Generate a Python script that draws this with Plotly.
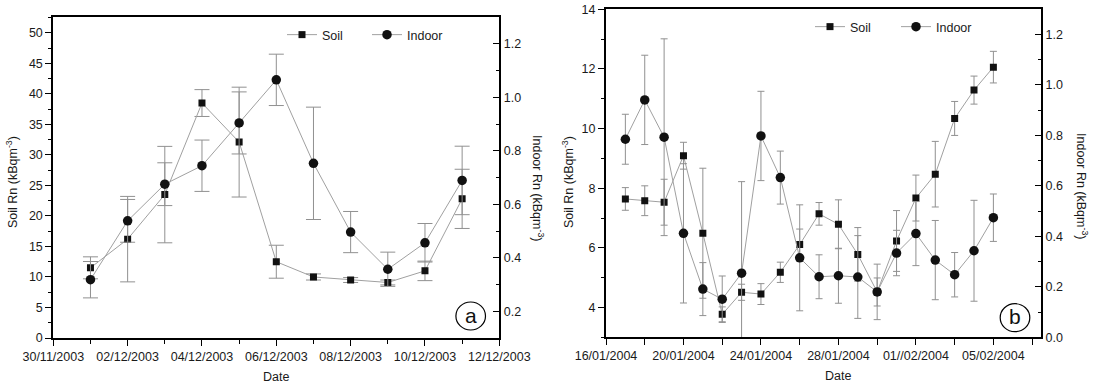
import plotly.graph_objects as go

# ---------------- data: panel (a) ----------------
a_dates = ["2003-12-01", "2003-12-02", "2003-12-03", "2003-12-04", "2003-12-05", "2003-12-06",
           "2003-12-07", "2003-12-08", "2003-12-09", "2003-12-10", "2003-12-11"]
a_soil = [11.5, 16.2, 23.5, 38.5, 32.1, 12.5, 10.0, 9.5, 9.1, 11.0, 22.8]
a_soil_err = [1.8, 7.0, 7.9, 2.2, 9.0, 2.7, 0.5, 0.4, 0.4, 1.6, 4.85]
a_indoor = [0.318, 0.538, 0.675, 0.744, 0.904, 1.065, 0.753, 0.496, 0.357, 0.456, 0.689]
a_indoor_err = [0.068, 0.08, 0.08, 0.096, 0.116, 0.096, 0.21, 0.077, 0.064, 0.072, 0.128]

# ---------------- data: panel (b) ----------------
b_dates = ["2004-01-17", "2004-01-18", "2004-01-19", "2004-01-20", "2004-01-21", "2004-01-22",
           "2004-01-23", "2004-01-24", "2004-01-25", "2004-01-26", "2004-01-27", "2004-01-28",
           "2004-01-29", "2004-01-30", "2004-01-31", "2004-02-01", "2004-02-02", "2004-02-03",
           "2004-02-04", "2004-02-05"]
b_soil = [7.64, 7.58, 7.53, 9.09, 6.49, 3.77, 4.51, 4.45, 5.18, 6.11, 7.14, 6.79, 5.78, 4.52,
          6.23, 7.67, 8.47, 10.34, 11.29, 12.06]
b_soil_err = [0.38, 0.5, 0.77, 0.45, 2.18, 0.25, 0.27, 0.35, 0.34, 0.52, 0.38, 0.82, 0.9, 0.47,
              1.02, 0.77, 1.1, 0.57, 0.47, 0.53]
b_indoor = [0.785, 0.941, 0.793, 0.412, 0.191, 0.151, 0.254, 0.798, 0.633, 0.315, 0.240, 0.244,
            0.239, 0.180, 0.334, 0.411, 0.306, 0.248, 0.343, 0.474]
b_indoor_err = [0.099, 0.177, 0.39, 0.276, 0.105, 0.092, 0.363, 0.177, 0.105, 0.21, 0.087, 0.109,
                0.164, 0.11, 0.09, 0.127, 0.157, 0.088, 0.2, 0.094]

a_xtick_vals = ["2003-11-30", "2003-12-02", "2003-12-04", "2003-12-06", "2003-12-08", "2003-12-10", "2003-12-12"]
a_xtick_text = ["30/11/2003", "02/12/2003", "04/12/2003", "06/12/2003", "08/12/2003", "10/12/2003", "12/12/2003"]
b_xtick_vals = ["2004-01-16", "2004-01-20", "2004-01-24", "2004-01-28", "2004-02-01", "2004-02-05"]
b_xtick_text = ["16/01/2004", "20/01/2004", "24/01/2004", "28/01/2004", "01//02/2004", "05/02/2004"]

W, H = 1093, 386
FONT = "Liberation Sans, Arial, sans-serif"
FS = 12.5
LINE_C = "#a0a0a0"
ERR_C = "#909090"
MARK_C = "#111111"


def px(x):
    return x / W


def py(y):
    return 1 - y / H


fig = go.Figure()


def add_series(x, y, err, xa, ya, symbol, size, name, legend, cap, showlegend=True):
    fig.add_trace(go.Scatter(
        x=x, y=y, xaxis=xa, yaxis=ya, mode="lines+markers", name=name,
        line=dict(color=LINE_C, width=1),
        marker=dict(symbol=symbol, size=size, color=MARK_C),
        error_y=dict(type="data", array=err, visible=True, color=ERR_C, thickness=1, width=cap),
        legend=legend, showlegend=showlegend,
    ))


add_series(a_dates, a_soil, a_soil_err, "x", "y", "square", 7, "Soil", "legend", 7.5)
add_series(a_dates, a_indoor, a_indoor_err, "x", "y2", "circle", 9.5, "Indoor", "legend", 7.5)
add_series(b_dates, b_soil, b_soil_err, "x2", "y3", "square", 7, "Soil", "legend2", 3.5)
add_series(b_dates, b_indoor, b_indoor_err, "x2", "y4", "circle", 9.5, "Indoor", "legend2", 3.5)

tickfont = dict(family=FONT, size=FS, color="#1a1a1a")
common = dict(showgrid=False, zeroline=False, showline=True, linecolor="black", linewidth=2,
              tickfont=tickfont, tickcolor="black", tickwidth=1.3, automargin=False)

a_dom_x = [px(53.3), px(499.3)]
a_dom_y = [py(338), py(17)]
b_dom_x = [px(606), px(1041)]
b_dom_y = [py(337.3), py(9.3)]

DAY = 86400000

fig.update_layout(
    template="none",
    width=W, height=H, margin=dict(l=0, r=0, t=0, b=0, pad=0, autoexpand=False),
    paper_bgcolor="white", plot_bgcolor="white",
    font=dict(family=FONT, size=FS, color="#1a1a1a"),
    xaxis=dict(domain=a_dom_x, anchor="y", type="date",
               range=["2003-11-30", "2003-12-12"],
               tickmode="array", tickvals=a_xtick_vals, ticktext=a_xtick_text,
               ticks="outside", ticklen=6, mirror=True,
               minor=dict(tick0="2003-11-30", dtick=DAY, ticks="outside", ticklen=3.5,
                          tickcolor="black", tickwidth=1.3, showgrid=False),
               **common),
    yaxis=dict(domain=a_dom_y, anchor="x", range=[0, 52.6], tick0=0, dtick=5,
               ticks="outside", ticklen=6,
               minor=dict(dtick=2.5, ticks="outside", ticklen=3.5, tickcolor="black",
                          tickwidth=1.3, showgrid=False),
               **common),
    yaxis2=dict(domain=a_dom_y, anchor="x", overlaying="y", side="right",
                range=[0.1, 1.3], tick0=0, dtick=0.2, tickformat=".1f",
                ticks="inside", ticklen=6,
                minor=dict(tick0=0, dtick=0.1, ticks="inside", ticklen=3.5, tickcolor="black",
                           tickwidth=1.3, showgrid=False),
                **common),
    xaxis2=dict(domain=b_dom_x, anchor="y3", type="date",
                range=["2004-01-16", "2004-02-07 11:00"],
                tickmode="array", tickvals=b_xtick_vals, ticktext=b_xtick_text,
                ticks="outside", ticklen=6, mirror=True,
                minor=dict(tick0="2004-01-16", dtick=2 * DAY, ticks="outside", ticklen=6,
                           tickcolor="black", tickwidth=1.3, showgrid=False),
                **common),
    yaxis3=dict(domain=b_dom_y, anchor="x2", range=[3, 14], tick0=0, dtick=2,
                ticks="outside", ticklen=6,
                minor=dict(dtick=1, ticks="outside", ticklen=3.5, tickcolor="black",
                           tickwidth=1.3, showgrid=False),
                **common),
    yaxis4=dict(domain=b_dom_y, anchor="x2", overlaying="y3", side="right",
                range=[0, 1.3], tick0=0, dtick=0.2, tickformat=".1f",
                ticks="inside", ticklen=6,
                minor=dict(tick0=0, dtick=0.1, ticks="inside", ticklen=3.5, tickcolor="black",
                           tickwidth=1.3, showgrid=False),
                **common),
    legend=dict(orientation="h", x=px(282), y=py(35), xanchor="left", yanchor="middle",
                bgcolor="rgba(0,0,0,0)", font=dict(family=FONT, size=FS),
                entrywidth=40, entrywidthmode="pixels", tracegroupgap=0),
    legend2=dict(orientation="h", x=px(810), y=py(27), xanchor="left", yanchor="middle",
                 bgcolor="rgba(0,0,0,0)", font=dict(family=FONT, size=FS),
                 entrywidth=41, entrywidthmode="pixels", tracegroupgap=0),
)

ann_font = dict(family=FONT, size=FS, color="#1a1a1a")


def label(text, x, y, angle=0, font=ann_font):
    return dict(text=text, x=px(x), y=py(y), xref="paper", yref="paper", showarrow=False,
                xanchor="center", yanchor="middle", textangle=angle, font=font)


ann = [
    label("Date", 276, 377),
    label("Date", 838, 376),
    label("Soil Rn (kBqm<sup>-3</sup>)", 12, 182, -90),
    label("Indoor Rn (kBqm<sup>-3</sup>)", 538, 188, 90),
    label("Soil Rn (kBqm<sup>-3</sup>)", 568, 182, -90),
    label("Indoor Rn (kBqm<sup>-3</sup>)", 1082, 186, 90),
    label("a", 470.7, 315, 0, dict(family=FONT, size=21, color="#111")),
    label("b", 1015, 316.5, 0, dict(family=FONT, size=21, color="#111")),
]
fig.update_layout(annotations=ann)

shapes = []
for cx, cy in [(470.7, 316), (1015, 317.7)]:
    shapes.append(dict(type="circle", xref="paper", yref="paper",
                       x0=px(cx - 14.8), x1=px(cx + 14.8), y0=py(cy + 14), y1=py(cy - 14),
                       line=dict(color="black", width=1.2)))
fig.update_layout(shapes=shapes)

fig.write_html("out.html", config={"displayModeBar": False},
               post_script="document.body.style.margin='0';")
